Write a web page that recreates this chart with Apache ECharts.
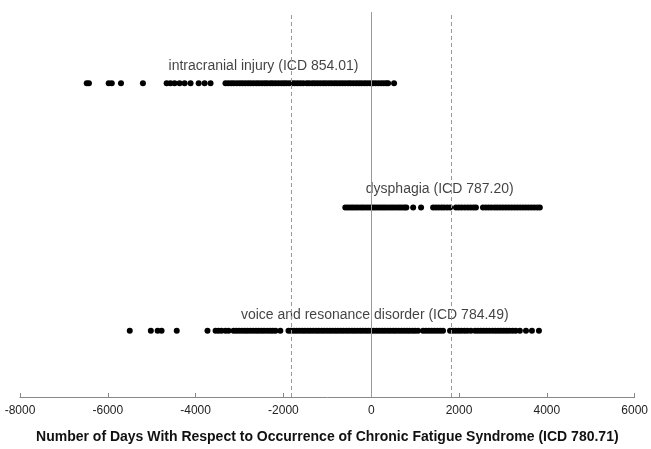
<!DOCTYPE html>
<html>
<head>
<meta charset="utf-8">
<script src="https://cdn.jsdelivr.net/npm/echarts@6/dist/echarts.min.js"></script>
<style>
html,body{margin:0;padding:0;background:#fff;}
#c{width:651px;height:449px;}
</style>
</head>
<body>
<div id="c"></div>
<script>
// Days relative to CFS diagnosis
var intracranialDays = [-6480, -6430, -5980, -5910, -5700, -5200,
  -4660, -4575, -4480, -4365, -4250, -4115, -3930, -3795, -3660,
  -3320, -3255, -3190, -3130, -3060, -2995, -2935, -2870, -2805, -2745, -2680, -2615, -2555,
  -2490, -2425, -2370, -2300, -2245, -2180, -2115, -2050, -1990, -1935, -1870, -1805, -1745,
  -1680, -1615, -1550, -1470, -1415, -1345, -1285, -1220, -1155, -1090, -1030, -965, -905,
  -840, -780, -715, -655, -590, -525, -470, -405, -340, -280, -220, -155, -95, -30, 35, 95,
  160, 225, 285, 345, 385, 520];
var dysphagiaDays = [-590, -535, -480, -425, -370, -315, -255, -200, -145, -85, -30, 25, 80,
  135, 195, 250, 305, 360, 420, 475, 530, 590, 645, 700, 755, 800, 955, 1135,
  1410, 1470, 1535, 1600, 1660, 1730, 1795, 1930, 1995, 2060, 2130, 2200, 2265, 2330, 2385,
  2545, 2610, 2675, 2740, 2810, 2870, 2935, 3000, 3065, 3130, 3195, 3260, 3325, 3390, 3455,
  3520, 3585, 3650, 3715, 3780, 3840];
var voiceDays = [-5500, -5020, -4865, -4775, -4430, -3730,
  -3545, -3480, -3410, -3320, -3250, -3135, -3075, -3010, -2945, -2880, -2820, -2755, -2690,
  -2625, -2565, -2500, -2440, -2370, -2305, -2245, -2180, -2070,
  -1885, -1825, -1760, -1700, -1635, -1570, -1510, -1445, -1385, -1320, -1255, -1195, -1130,
  -1070, -1005, -940, -880, -815, -755, -690, -630, -565, -505, -440, -380, -315, -250,
  -190, -125, -65, 0, 60, 125, 185, 250, 310, 375, 435, 500, 560, 625, 690, 750, 815, 875,
  940, 1000, 1065, 1180, 1245, 1310, 1375, 1440, 1505, 1570, 1635,
  1795, 1860, 1925, 1990, 2055, 2125, 2190, 2270,
  2365, 2430, 2495, 2560, 2625, 2690, 2760, 2825, 2890, 2955, 3020, 3085, 3150, 3220, 3290,
  3385, 3525, 3660, 3820];
var rowNames = ['intracranial injury (ICD 854.01)', 'dysphagia (ICD 787.20)', 'voice and resonance disorder (ICD 784.49)'];
var rowLevels = [8.15, 4.92, 1.72];
var labelCenters = [-2455, 1560, 80];
var labelLevels = [8.6, 5.4, 2.13];
var xTicks = [-8000, -6000, -4000, -2000, 0, 2000, 4000, 6000];
var windowDays = [-1826, 1826];
var axisTitle = 'Number of Days With Respect to Occurrence of Chronic Fatigue Syndrome (ICD 780.71)';

var font = '"Liberation Sans", Arial, sans-serif';
var rows = [intracranialDays, dysphagiaDays, voiceDays];
var series = rows.map(function (arr, i) {
  return {
    type: 'scatter',
    symbol: 'circle',
    symbolSize: 6,
    itemStyle: { color: '#000', opacity: 1 },
    data: arr.map(function (d) { return [d, rowLevels[i]]; }),
    z: 3
  };
});
series.push({
  type: 'scatter',
  symbolSize: 0,
  silent: true,
  data: rowNames.map(function (n, i) { return { value: [labelCenters[i], labelLevels[i]], name: n }; }),
  label: {
    show: true, position: 'inside', formatter: '{b}',
    fontFamily: font, fontSize: 14, color: '#111'
  },
  markLine: {
    silent: true, symbol: 'none', label: { show: false },
    data: [
      { xAxis: 0, lineStyle: { color: '#999', type: 'solid', width: 1 } },
      { xAxis: windowDays[0], lineStyle: { color: '#999', type: [4, 3], width: 1 } },
      { xAxis: windowDays[1], lineStyle: { color: '#999', type: [4, 3], width: 1 } }
    ]
  }
});

var chart = echarts.init(document.getElementById('c'));
chart.setOption({
  animation: false,
  backgroundColor: '#fff',
  grid: { left: 20, right: 15, top: 12, bottom: 46 },
  xAxis: {
    type: 'value', min: xTicks[0], max: xTicks[xTicks.length - 1], interval: 2000,
    name: axisTitle, nameLocation: 'middle', nameGap: 33,
    nameTextStyle: { fontFamily: font, fontSize: 14, fontWeight: 'bold', color: '#111' },
    axisLine: { lineStyle: { color: '#888' } },
    axisTick: { show: true, inside: true, length: 4, lineStyle: { color: '#888' } },
    axisLabel: { fontFamily: font, fontSize: 12, color: '#222', margin: 8,
      formatter: function (v) { return String(v); } },
    splitLine: { show: false }
  },
  yAxis: { type: 'value', min: 0, max: 10, show: false },
  series: series
});
</script>
</body>
</html>
